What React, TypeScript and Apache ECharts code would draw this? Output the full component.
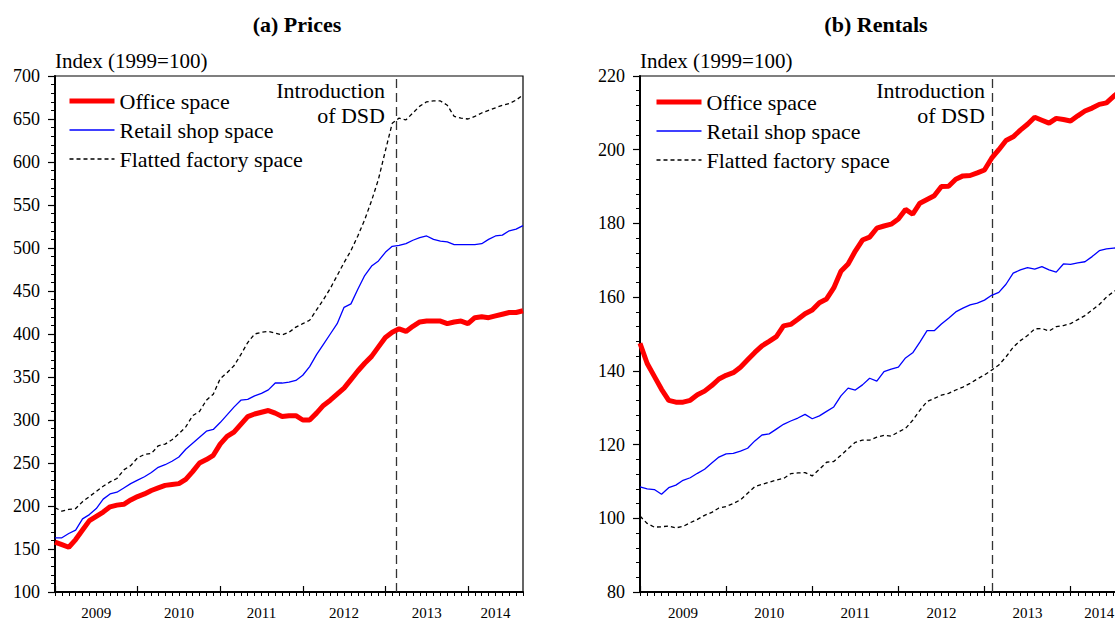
import React, { useEffect, useRef } from "react";
import * as echarts from "echarts";

// Monthly observations, Jan 2009 (index 0) to Sep 2014 (index 68)
const YEARS = ["2009", "2010", "2011", "2012", "2013", "2014"];
const YEAR_LABEL_AT = [6, 18, 30, 42, 54, 64];
const YEAR_TICKS = [0, 12, 24, 36, 48, 60];
const LAST_MONTH = 68;
const DSD_PRICES = 49.6;
const DSD_RENTALS = 49.1;

const SERIES_NAMES = ["Office space", "Retail shop space", "Flatted factory space"];

const priceOffice = [
  158, 155, 152, 161, 172, 183, 188, 193, 199, 201, 202, 207,
  211, 214, 218, 221, 224, 225, 226, 231, 240, 250, 254, 259,
  272, 281, 286, 295, 304, 307, 309, 311, 308, 304, 305, 305,
  300, 300, 308, 317, 323, 330, 337, 347, 357, 366, 374, 385,
  396, 402, 406, 403, 409, 414, 415, 415, 415, 412, 414, 415,
  412, 419, 420, 419, 421, 423, 425, 425, 427,
];
const priceRetail = [
  163, 163, 168, 172, 185, 190, 197, 208, 214, 216, 221, 226,
  230, 234, 239, 245, 248, 252, 257, 266, 273, 280, 287, 289,
  297, 306, 315, 323, 324, 328, 331, 335, 343, 343, 344, 346,
  352, 362, 376, 388, 400, 412, 431, 435, 452, 468, 479, 485,
  495, 502, 503, 505, 509, 512, 514, 510, 508, 507, 504, 504,
  504, 504, 505, 510, 514, 515, 520, 522, 526,
];
const priceFactory = [
  198, 194, 196, 197, 205, 211, 217, 223, 228, 232, 242, 247,
  256, 260, 261, 270, 272, 277, 284, 292, 305, 310, 323, 330,
  348, 355, 363, 376, 390, 400, 402, 403, 401, 399, 402, 408,
  412, 416, 428, 440, 453, 468, 483, 497, 514, 533, 555, 580,
  613, 645, 651, 649, 657, 665, 670, 671, 671, 666, 653, 651,
  650, 653, 657, 660, 663, 666, 668, 672, 678,
];

const rentOffice = [
  147.5, 142, 138.5, 135, 132, 131.5, 131.5, 132, 133.5, 134.5, 136, 137.8,
  138.8, 139.5, 141, 143, 145, 146.8, 148, 149.3, 152.2, 152.6, 154, 155.5,
  156.5, 158.5, 159.5, 162.5, 167, 169, 172.5, 175.5, 176.3, 178.7, 179.3, 179.8,
  181.2, 183.8, 182.5, 185.5, 186.5, 187.5, 190, 190.1, 192, 192.9, 193, 193.7,
  194.5, 197.7, 200, 202.5, 203.5, 205.3, 206.9, 208.8, 208, 207.2, 208.5, 208.2,
  207.8, 209.2, 210.5, 211.3, 212.3, 212.7, 214.5, 216, 217,
];
const rentRetail = [
  108.5, 108, 107.8, 106.5, 108.3, 109, 110.3, 111, 112.2, 113.3, 115, 116.6,
  117.5, 117.6, 118.2, 119, 121, 122.6, 122.9, 124.2, 125.5, 126.4, 127.2, 128.2,
  127, 127.8, 129, 130.2, 133.2, 135.3, 134.8, 136.2, 138, 137.2, 139.8, 140.5,
  141, 143.5, 144.9, 147.8, 150.9, 150.9, 152.7, 154.3, 156, 157, 157.9, 158.4,
  159.2, 160.5, 161.3, 163.5, 166.5, 167.4, 168, 167.6, 168.3, 167.4, 166.8, 169,
  168.9, 169.3, 169.6, 171, 172.6, 173.1, 173.3, 173.5, 173.8,
];
const rentFactory = [
  100.6, 98.6, 97.6, 97.7, 97.9, 97.4, 97.8, 98.8, 99.7, 100.8, 101.6, 102.8,
  103.2, 104, 105, 106.8, 108.6, 109.2, 109.8, 110.4, 110.8, 112.1, 112.3, 112.4,
  111.5, 113.3, 115.2, 115.4, 117.1, 118.9, 120.6, 121.2, 121.2, 122, 122.5, 122.3,
  123.4, 124.4, 126.6, 129.3, 131.7, 132.5, 133.4, 133.9, 134.8, 135.6, 136.6, 137.8,
  138.9, 140.2, 141.6, 143.8, 146.4, 148.2, 149.6, 151.4, 151.5, 150.8, 152, 152.3,
  152.8, 153.9, 155, 156.5, 158, 160, 161.5, 162.6, 163.6,
];

const FONT = "Liberation Serif";

const STYLES = [
  { color: "#ff0000", width: 5, type: "solid" as any },
  { color: "#0000ff", width: 1.3, type: "solid" as any },
  { color: "#000000", width: 1.3, type: [4, 3] as any },
];

function toPoints(arr: number[]) {
  return arr.map((v, i) => [i, v]);
}

function xAxesFor(gridIndex: number) {
  return [
    {
      type: "value",
      gridIndex,
      position: "bottom",
      min: 0,
      max: LAST_MONTH,
      interval: 1,
      axisLine: { show: true, onZero: false, lineStyle: { color: "#000", width: 2 } },
      axisTick: { show: true, inside: false, length: 4, lineStyle: { color: "#000", width: 1 } },
      axisLabel: { show: false },
      splitLine: { show: false },
    },
    {
      type: "value",
      gridIndex,
      position: "bottom",
      min: 0,
      max: LAST_MONTH,
      interval: 12,
      axisLine: { show: false, onZero: false },
      axisTick: {
        show: true,
        inside: true,
        length: 6,
        customValues: YEAR_TICKS,
        lineStyle: { color: "#000", width: 1.2 },
      },
      axisLabel: {
        show: true,
        customValues: YEAR_LABEL_AT,
        formatter: (v: number) => YEARS[YEAR_LABEL_AT.indexOf(v)] ?? "",
        fontFamily: FONT,
        fontSize: 15,
        color: "#000",
        margin: 13,
      },
      splitLine: { show: false },
    },
  ];
}

function yAxisFor(gridIndex: number, min: number, max: number, interval: number) {
  return {
    type: "value",
    gridIndex,
    min,
    max,
    interval,
    name: "Index (1999=100)",
    nameLocation: "end",
    nameGap: 5,
    nameTextStyle: { align: "left", fontFamily: FONT, fontSize: 21, color: "#000", padding: [0, 0, 0, 0] },
    axisLine: { show: true, onZero: false, lineStyle: { color: "#000", width: 2 } },
    axisTick: { show: true, inside: false, length: 7, lineStyle: { color: "#000", width: 1.2 } },
    minorTick: { show: true, splitNumber: 5, length: 4, lineStyle: { color: "#000", width: 1 } },
    axisLabel: { fontFamily: FONT, fontSize: 18, color: "#000", margin: 15 },
    splitLine: { show: false },
    minorSplitLine: { show: false },
  };
}

function seriesFor(
  arrays: number[][],
  xAxisIndex: number,
  yAxisIndex: number,
  dsd: number
) {
  return arrays.map((arr, k) => ({
    type: "line",
    name: SERIES_NAMES[k],
    xAxisIndex,
    yAxisIndex,
    data: toPoints(arr),
    symbol: "none",
    showSymbol: false,
    z: 10 - k,
    lineStyle: { color: STYLES[k].color, width: STYLES[k].width, type: STYLES[k].type },
    itemStyle: { color: STYLES[k].color },
    markLine:
      k === 2
        ? {
            silent: true,
            symbol: ["none", "none"],
            label: { show: false },
            lineStyle: { color: "#333", type: [9, 5], width: 1.3 },
            data: [{ xAxis: dsd }],
          }
        : undefined,
  }));
}

function legendFor(left: number, top: number) {
  return {
    orient: "vertical",
    left,
    top,
    padding: 0,
    itemWidth: 45,
    itemHeight: 14,
    itemGap: 7,
    textStyle: { fontFamily: FONT, fontSize: 22, color: "#000" },
    itemStyle: { color: "rgba(0,0,0,0)", borderWidth: 0, opacity: 0 },
    data: SERIES_NAMES.map((name, k) => ({
      name,
      itemStyle: { color: "rgba(0,0,0,0)", borderWidth: 0, opacity: 0 },
      lineStyle: { color: STYLES[k].color, width: STYLES[k].width, type: STYLES[k].type },
    })),
  };
}

export default function App() {
  const ref = useRef<HTMLDivElement>(null);

  useEffect(() => {
    if (!ref.current) return;
    const chart = echarts.init(ref.current, undefined, { renderer: "svg" });
    const introStyle = {
      text: "Introduction\nof DSD",
      align: "right",
      verticalAlign: "top",
      fontFamily: FONT,
      fontSize: 22,
      lineHeight: 25,
      fill: "#000",
    };
    const option: any = {
      animation: false,
      backgroundColor: "#fff",
      title: [
        {
          text: "(a) Prices",
          left: 297,
          top: 13,
          textAlign: "center",
          padding: 0,
          textStyle: { fontFamily: FONT, fontSize: 22, fontWeight: "bold", color: "#000" },
        },
        {
          text: "(b) Rentals",
          left: 876,
          top: 13,
          textAlign: "center",
          padding: 0,
          textStyle: { fontFamily: FONT, fontSize: 22, fontWeight: "bold", color: "#000" },
        },
      ],
      legend: [legendFor(67, 90), legendFor(654, 91)],
      grid: [
        {
          left: 55, top: 76, width: 468, height: 516,
          outerBoundsMode: "none", containLabel: false,
          show: true, borderColor: "#000", borderWidth: 1.2, backgroundColor: "transparent",
        },
        {
          left: 640, top: 76, width: 488, height: 516,
          outerBoundsMode: "none", containLabel: false,
          show: true, borderColor: "#000", borderWidth: 1.2, backgroundColor: "transparent",
        },
      ],
      xAxis: [...xAxesFor(0), ...xAxesFor(1)],
      yAxis: [yAxisFor(0, 100, 700, 50), yAxisFor(1, 80, 220, 20)],
      series: [
        ...seriesFor([priceOffice, priceRetail, priceFactory], 0, 0, DSD_PRICES),
        ...seriesFor([rentOffice, rentRetail, rentFactory], 2, 1, DSD_RENTALS),
      ],
      graphic: [
        { type: "text", x: 385, y: 78, style: { ...introStyle } },
        { type: "text", x: 985, y: 78, style: { ...introStyle } },
      ],
    };
    chart.setOption(option);
    return () => chart.dispose();
  }, []);

  return (
    <div
      ref={ref}
      style={{ position: "fixed", left: 0, top: 0, width: 1115, height: 621, overflow: "hidden" }}
    />
  );
}
